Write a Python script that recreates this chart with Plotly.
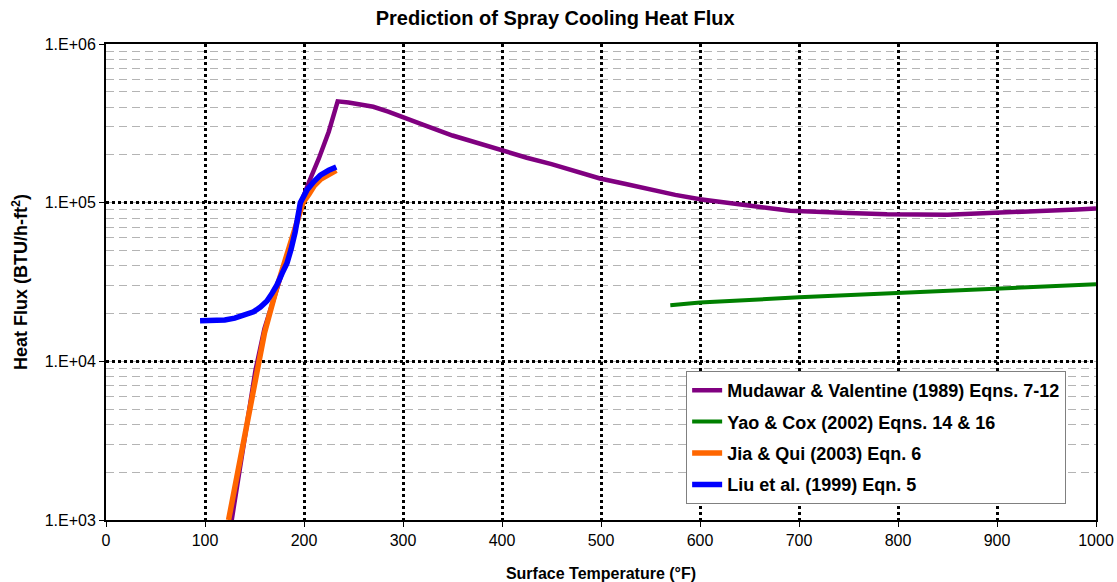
import plotly.graph_objects as go

# Mudawar & Valentine (1989)
mv_T = [127, 135, 143, 151, 160, 170, 180, 190, 197, 205, 215, 225, 230, 234,
        245, 257, 270, 285, 297, 320, 350, 375, 398, 425, 450, 475, 499, 525, 550,
        575, 600, 650, 691, 750, 789, 850, 885, 950, 981, 1000]
mv_q = [1000, 2100, 4400, 8800, 16000, 26000, 40000, 63000, 100000, 135000, 190000,
        280000, 350000, 435000, 428000, 418000, 402000, 375000, 350000, 310000, 265000,
        238000, 214000, 192000, 175000, 157000, 142000, 131000, 121000, 112000, 105000,
        96000, 89000, 86000, 84400, 84000, 85500, 88000, 90700, 92000]

# Yao & Cox (2002)
yc_T = [570, 600, 700, 789, 900, 1000]
yc_q = [22600, 23500, 25300, 26800, 28800, 30600]

# Jia & Qui (2003)
jq_T = [123.8, 130, 140, 152.5, 160, 172.7, 180, 191, 199, 205, 210, 216.5, 225, 232.6]
jq_q = [1000, 1600, 3400, 8800, 15000, 29500, 42000, 67000, 100000, 113000, 127000,
        140000, 152000, 160000]

# Liu et al. (1999)
liu_T = [95, 110, 120, 130, 140, 149, 156, 162.6, 168, 172.7, 178, 182.8, 187, 191,
         196.3, 203, 210, 216.5, 225, 232.6]
liu_q = [18000, 18000, 18200, 18700, 19500, 20500, 22000, 24000, 27000, 30300, 36000,
         41500, 51000, 65000, 100000, 120000, 136000, 149000, 160000, 168000]

y_tickvals = [1e3, 1e4, 1e5, 1e6]
y_ticktext = ["1.E+03", "1.E+04", "1.E+05", "1.E+06"]

series = [
    ("Mudawar & Valentine (1989) Eqns. 7-12", mv_T, mv_q, "#800080", 4.5),
    ("Yao & Cox (2002) Eqns. 14 & 16", yc_T, yc_q, "#008000", 4),
    ("Jia & Qui (2003) Eqn. 6", jq_T, jq_q, "#FF6600", 5.5),
    ("Liu et al. (1999) Eqn. 5", liu_T, liu_q, "#0000FF", 5.5),
]

fig = go.Figure()
for i, (name, xs, ys, col, w) in enumerate(series):
    fig.add_trace(go.Scatter(x=xs, y=ys, mode="lines", name=f"<b>{name}</b>",
                             legendgroup=f"g{i}",
                             line=dict(color=col, width=w),
                             hoverinfo="skip"))

font_family = "Liberation Sans, Arial, sans-serif"

fig.update_layout(
    width=1117, height=582,
    margin=dict(l=106, r=21, t=44, b=62),
    paper_bgcolor="white", plot_bgcolor="white",
    font=dict(family=font_family, size=16, color="black"),
    title=dict(text="<b>Prediction of Spray Cooling Heat Flux</b>",
               x=0.497, xanchor="center", y=0.969, yanchor="middle",
               font=dict(size=20, family=font_family, color="black")),
    showlegend=True,
    legend=dict(x=0.586, xanchor="left", y=0.313, yanchor="top",
                bgcolor="white", bordercolor="#808080", borderwidth=1,
                font=dict(size=18, family=font_family, color="black"),
                traceorder="grouped", tracegroupgap=5,
                itemwidth=30),
    xaxis=dict(range=[0, 1000], dtick=100, tick0=0, automargin=False,
               showline=True, linecolor="black", linewidth=2, mirror=True,
               ticks="outside", ticklen=5, tickcolor="black", tickwidth=1,
               showgrid=True, gridcolor="black", gridwidth=2.5, griddash="dot",
               zeroline=False,
               tickfont=dict(size=16, color="black"),
               title=dict(text="<b>Surface Temperature (°F)</b>", standoff=20,
                          font=dict(size=16, color="black"))),
    yaxis=dict(type="log", range=[3, 6], automargin=False,
               tickmode="array", tickvals=y_tickvals, ticktext=y_ticktext,
               showline=True, linecolor="black", linewidth=2, mirror=True,
               ticks="outside", ticklen=5, tickcolor="black", tickwidth=1,
               showgrid=True, gridcolor="black", gridwidth=2.5, griddash="dot",
               zeroline=False,
               tickfont=dict(size=16, color="black"),
               minor=dict(dtick="D1", showgrid=True, gridcolor="#b4b4b4",
                          gridwidth=1, griddash="8px,5px", ticks=""),
               title=dict(text="<b>Heat Flux (BTU/h-ft<sup>2</sup>)</b>", standoff=12,
                          font=dict(size=18, color="black"))),
)

fig.write_html("out.html")
